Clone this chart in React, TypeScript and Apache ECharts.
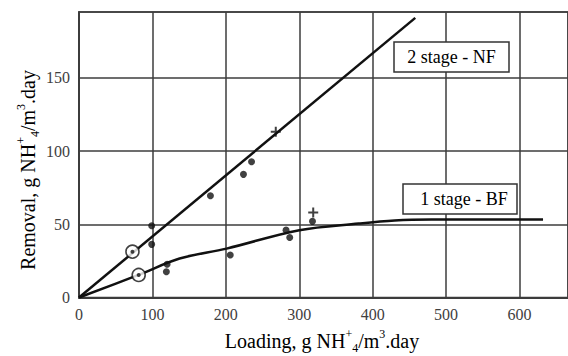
import React, { useEffect, useRef } from "react";
import * as echarts from "echarts";

// Lines
const nfLine: [number, number][] = [
  [0, 0],
  [458, 191],
];
const bfLine: [number, number][] = [
  [0, 0],
  [81, 15.4],
  [137, 26.6],
  [201, 33.4],
  [300, 46],
  [381, 50.5],
  [430, 52.6],
  [480, 53.2],
  [632, 53.2],
];

// Measured points
const nfDots: [number, number][] = [
  [99, 49],
  [99, 36.3],
  [179, 69.5],
  [224, 84.1],
  [235, 92.7],
];
const bfDots: [number, number][] = [
  [120, 22.7],
  [119, 17.6],
  [206, 29],
  [282, 46],
  [287, 41],
  [318, 52],
];
const circlePoints: [number, number][] = [
  [72.8, 31.3],
  [81.3, 15.4],
];
const plusPoints: [number, number][] = [
  [268, 113.2],
  [319, 58],
];

const xTicks = [0, 100, 200, 300, 400, 500, 600];
const yTicks = [0, 50, 100, 150];
const nfLabel = "2 stage - NF";
const bfLabel = "1 stage - BF";

const SERIF = "Liberation Serif, serif";
const GRID = "#3c3c3c";

export default function App() {
  const ref = useRef<HTMLDivElement>(null);
  useEffect(() => {
    if (!ref.current) return;
    const chart = echarts.init(ref.current, null, { renderer: "svg" });
    const nameRich = {
      a: { fontFamily: SERIF, fontSize: 20, color: "#1a1a1a", lineHeight: 26, verticalAlign: "middle" },
      sup: { fontFamily: SERIF, fontSize: 12, color: "#1a1a1a", lineHeight: 12, verticalAlign: "top" },
      sub: { fontFamily: SERIF, fontSize: 12, color: "#1a1a1a", lineHeight: 12, verticalAlign: "bottom" },
    };
    const nameText = (first: string) =>
      `{a|${first} g NH}{sup|+}{sub|4}{a|/m}{sup|3}{a|.day}`;
    const boxText = (t: string) => `{b|${t}}`;
    const boxRich = {
      b: { fontFamily: SERIF, fontSize: 18, color: "#333" },
    };
    const tickRich = {
      t: { fontFamily: SERIF, fontSize: 16, color: "#404040" },
    };
    chart.setOption({
      animation: false,
      backgroundColor: "#ffffff",
      textStyle: { fontFamily: SERIF },
      grid: {
        left: 79,
        right: -2,
        top: 12,
        bottom: 58.5,
        show: true,
        borderColor: GRID,
        borderWidth: 1.5,
      },
      xAxis: {
        type: "value",
        min: 0,
        max: 666,
        interval: 100,
        axisLine: { show: true, lineStyle: { color: GRID, width: 2 } },
        axisTick: { show: false },
        splitLine: { show: true, lineStyle: { color: GRID, width: 1.5 } },
        axisLabel: {
          margin: 9,
          showMaxLabel: false,
          rich: tickRich,
          formatter: (v: number) => (xTicks.includes(v) ? `{t|${v}}` : ""),
        },
      },
      yAxis: {
        type: "value",
        min: 0,
        max: 195,
        interval: 50,
        axisLine: { show: true, lineStyle: { color: GRID, width: 2 } },
        axisTick: { show: false },
        splitLine: { show: true, lineStyle: { color: GRID, width: 1.5 } },
        axisLabel: {
          margin: 9,
          showMaxLabel: false,
          rich: tickRich,
          formatter: (v: number) => (yTicks.includes(v) ? `{t|${v}}` : ""),
        },
      },
      series: [
        {
          type: "line",
          data: nfLine,
          showSymbol: false,
          lineStyle: { color: "#111", width: 2.5 },
          z: 3,
        },
        {
          type: "line",
          data: bfLine,
          smooth: 0.35,
          showSymbol: false,
          lineStyle: { color: "#111", width: 2.5 },
          z: 3,
        },
        {
          type: "scatter",
          data: [...nfDots, ...bfDots],
          symbol: "circle",
          symbolSize: 7,
          itemStyle: { color: "#111" },
          z: 4,
        },
        {
          type: "scatter",
          data: circlePoints,
          symbol: "circle",
          symbolSize: 13,
          itemStyle: { color: "#fff", borderColor: "#111", borderWidth: 1.6 },
          z: 5,
        },
        {
          type: "scatter",
          data: circlePoints,
          symbol: "circle",
          symbolSize: 4,
          itemStyle: { color: "#111" },
          z: 6,
        },
        {
          type: "scatter",
          data: plusPoints,
          symbol: "path://M4,0h2v10h-2z M0,4h10v2h-10z",
          symbolSize: 10,
          itemStyle: { color: "#111" },
          z: 6,
        },
      ],
      graphic: [
        {
          type: "rect",
          z: 100,
          shape: { x: 394, y: 42, width: 115, height: 30 },
          style: { fill: "#fff", stroke: "#333", lineWidth: 1.5 },
        },
        {
          type: "text",
          z: 101,
          x: 451.5,
          y: 57,
          style: {
            text: boxText(nfLabel),
            rich: boxRich,
            align: "center",
            verticalAlign: "middle",
          },
        },
        {
          type: "rect",
          z: 100,
          shape: { x: 403, y: 184, width: 114, height: 30 },
          style: { fill: "#fff", stroke: "#333", lineWidth: 1.5 },
        },
        {
          type: "text",
          z: 101,
          x: 464,
          y: 199,
          style: {
            text: boxText(bfLabel),
            rich: boxRich,
            align: "center",
            verticalAlign: "middle",
          },
        },
        {
          type: "text",
          z: 101,
          x: 322,
          y: 341,
          style: {
            text: nameText("Loading,"),
            rich: nameRich,
            align: "center",
            verticalAlign: "middle",
          },
        },
        {
          type: "text",
          z: 101,
          x: 28,
          y: 170,
          rotation: Math.PI / 2,
          style: {
            text: nameText("Removal,"),
            rich: nameRich,
            align: "center",
            verticalAlign: "middle",
          },
        },
      ],
    });
    return () => chart.dispose();
  }, []);
  return (
    <div
      ref={ref}
      style={{ position: "fixed", left: 0, top: 0, width: 568, height: 356, background: "#fff" }}
    />
  );
}
